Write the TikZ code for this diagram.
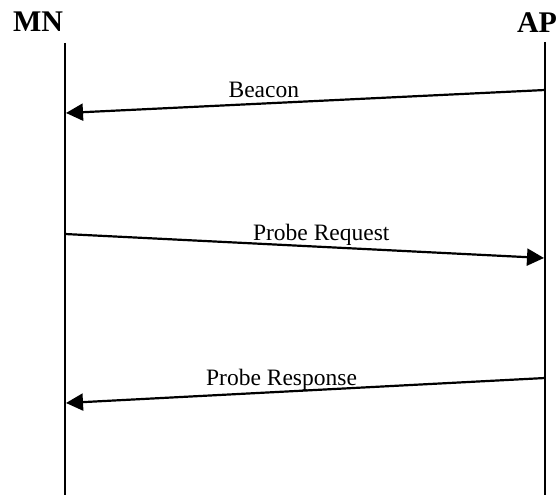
\documentclass[tikz,border=0pt]{standalone}
\usepackage{fontspec}
\setmainfont{Liberation Serif}
\usetikzlibrary{arrows.meta}

\tikzset{
  lifeline/.style={line width=1.8pt},
  msg/.style={line width=2.2pt, -{Triangle[length=17pt,width=17pt]}},
  msglabel/.style={anchor=base, yshift=6pt, inner sep=0pt, font=\fontsize{23.5}{28}\selectfont},
  head/.style={anchor=base, inner sep=0pt, font=\fontsize{30}{34}\selectfont\bfseries}
}

\begin{document}
\begin{tikzpicture}[x=1pt, y=-1pt]
\useasboundingbox (0,0) rectangle (559,495);

% stations
\node[head] (MN) at (38,32) {MN};
\node[head] (AP) at (537,33) {AP};

\coordinate (mntop) at (65,43);
\coordinate (mnbot) at (65,495);
\coordinate (aptop) at (545,42);
\coordinate (apbot) at (545,495);
\draw[lifeline] (mntop) -- (mnbot);
\draw[lifeline] (aptop) -- (apbot);

% messages
\coordinate (ap1) at (545,90);
\coordinate (mn1) at (66,113);
\coordinate (mn2) at (65,234);
\coordinate (ap2) at (544,258);
\coordinate (ap3) at (545,378);
\coordinate (mn3) at (66,403);

\draw[msg] (ap1) -- node[msglabel, pos=0.587] (beacon) {Beacon} (mn1);
\draw[msg] (mn2) -- node[msglabel, pos=0.535] (probereq) {Probe Request} (ap2);
\draw[msg] (ap3) -- node[msglabel, pos=0.55] (proberesp) {Probe Response} (mn3);
\end{tikzpicture}
\end{document}
